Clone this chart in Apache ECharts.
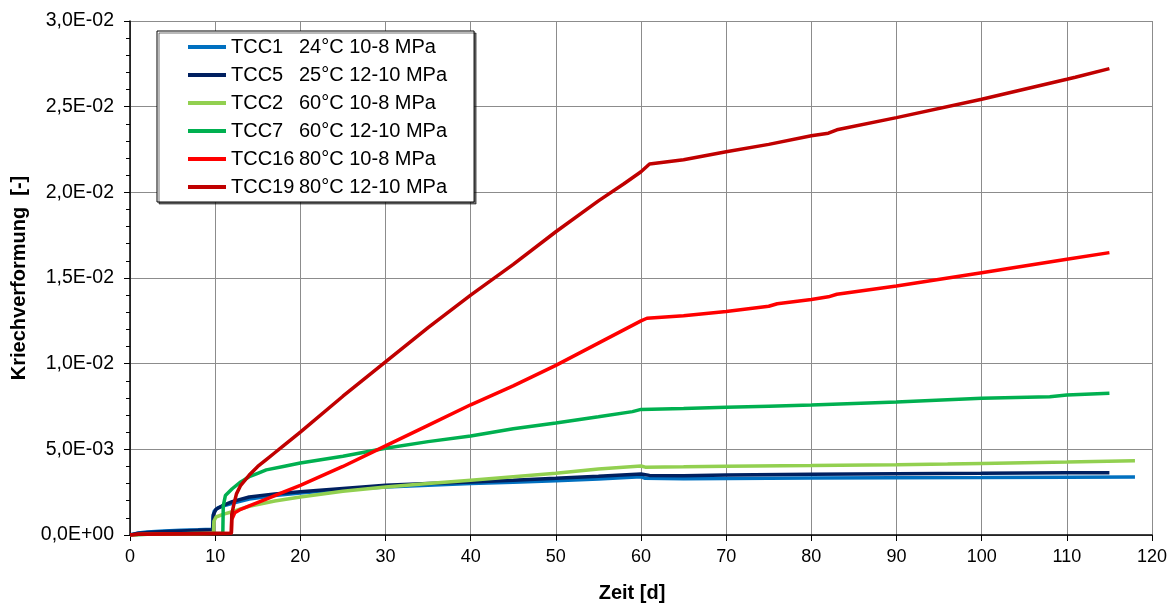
<!DOCTYPE html>
<html>
<head>
<meta charset="utf-8">
<script src="https://cdn.jsdelivr.net/npm/echarts@6/dist/echarts.min.js"></script>
<style>html,body{margin:0;padding:0;background:#fff;}#c{width:1176px;height:606px;}</style>
</head>
<body>
<div id="c"></div>
<script>
// [time in days, creep strain]
const tcc1 = [[0,0],[1,0.00012],[2,0.00018],[4,0.00024],[6,0.00027],[8,0.0003],[9.7,0.00033],[9.75,0.0011],[9.9,0.0014],[10.3,0.00158],[11,0.0017],[12,0.00185],[14,0.0021],[17,0.0023],[20,0.00245],[25,0.00265],[30,0.0028],[35,0.0029],[40,0.003],[45,0.00308],[50,0.00317],[55,0.00327],[60,0.0034],[60.5,0.00331],[65,0.00328],[70,0.0033],[80,0.00332],[90,0.00334],[100,0.00335],[110,0.00337],[118,0.00339]];
const tcc5 = [[0,0],[1,0.0001],[3,0.00018],[6,0.00024],[9.7,0.0003],[9.8,0.0012],[10.1,0.0015],[11,0.00175],[12,0.00195],[14,0.00222],[17,0.0024],[20,0.00253],[25,0.00272],[30,0.0029],[35,0.003],[40,0.0031],[45,0.0032],[50,0.00331],[55,0.00343],[60,0.00356],[61,0.00348],[65,0.00346],[70,0.0035],[80,0.00355],[90,0.00358],[100,0.0036],[110,0.00363],[115,0.00364]];
const tcc2 = [[0,0],[2,0.00005],[9.8,0.0001],[9.85,0.0008],[10.1,0.00105],[11,0.00122],[12,0.00136],[14,0.00168],[17,0.00198],[20,0.00222],[25,0.00255],[30,0.0028],[35,0.003],[40,0.0032],[45,0.0034],[50,0.0036],[55,0.00385],[60,0.00403],[60.5,0.00396],[65,0.00398],[70,0.00401],[80,0.00405],[90,0.0041],[96,0.00414],[100,0.00418],[110,0.00426],[118,0.00434]];
const tcc7 = [[0,0],[2,0.00005],[10.9,0.0001],[10.95,0.0017],[11.2,0.0023],[12,0.0027],[13,0.0031],[14,0.0034],[15,0.0036],[16,0.0038],[18,0.004],[20,0.0042],[25,0.0046],[30,0.00506],[35,0.00545],[40,0.00578],[45,0.0062],[50,0.00654],[55,0.0069],[59,0.0072],[60,0.00733],[65,0.00738],[70,0.00745],[75,0.00752],[80,0.00759],[90,0.00776],[100,0.00798],[108,0.00807],[110,0.00817],[115,0.00827]];
const tcc16 = [[0,0],[1,0.00005],[11.9,0.0001],[11.95,0.0009],[12.3,0.0013],[13,0.0015],[14,0.0017],[16,0.0021],[18,0.0025],[20,0.0029],[25,0.004],[30,0.0052],[35,0.0064],[40,0.0076],[45,0.0087],[50,0.0099],[55,0.0112],[60,0.0125],[60.7,0.01265],[65,0.0128],[70,0.01305],[75,0.01335],[76,0.0135],[80,0.01375],[82,0.0139],[83,0.01405],[90,0.01453],[100,0.01531],[110,0.01609],[115,0.01648]];
const tcc19 = [[0,0],[1,0.00005],[11.9,0.0001],[11.95,0.0012],[12.2,0.0018],[12.5,0.0024],[13,0.0029],[14,0.0035],[15,0.004],[16,0.0044],[17,0.0048],[18,0.0052],[20,0.006],[25,0.0081],[30,0.0101],[35,0.0121],[40,0.014],[45,0.0158],[50,0.0177],[55,0.0195],[58,0.0205],[60,0.0212],[61,0.02165],[65,0.0219],[70,0.02237],[75,0.0228],[80,0.0233],[82,0.02345],[83,0.02365],[90,0.02436],[100,0.02543],[110,0.0266],[111,0.02672],[115,0.02722]];

const seriesNames = ['TCC1   24°C 10-8 MPa','TCC5   25°C 12-10 MPa','TCC2   60°C 10-8 MPa','TCC7   60°C 12-10 MPa','TCC16 80°C 10-8 MPa','TCC19 80°C 12-10 MPa'];
const seriesData = [tcc1, tcc5, tcc2, tcc7, tcc16, tcc19];
const seriesColors = ['#0070C0','#002060','#92D050','#00B050','#FF0000','#C00000'];

const FONT = 'Liberation Sans, Arial, sans-serif';

function sci(v){
  if (v === 0) return '0,0E+00';
  const s = v.toExponential(1);
  const [m, e] = s.split('e');
  const ev = parseInt(e, 10);
  const sign = ev < 0 ? '-' : '+';
  const ea = Math.abs(ev);
  return m.replace('.', ',') + 'E' + sign + (ea < 10 ? '0' + ea : '' + ea);
}

const chart = echarts.init(document.getElementById('c'), null, {renderer: 'canvas'});
chart.setOption({
  animation: false,
  backgroundColor: '#fff',
  grid: {left: 130, right: 24, top: 21, bottom: 71, containLabel: false, outerBoundsMode: 'none'},
  legend: {
    orient: 'vertical',
    left: 157, top: 31,
    padding: [6, 27, 5, 31],
    itemGap: 8,
    itemWidth: 38, itemHeight: 4,
    icon: 'rect',
    backgroundColor: '#fff',
    borderColor: '#000', borderWidth: 1,
    shadowColor: 'rgba(0,0,0,0.55)', shadowBlur: 0, shadowOffsetX: 2, shadowOffsetY: 2,
    formatter: function(name){
      const parts = name.split(/ +/);
      const code = parts.shift();
      return '{a|' + code + '}{b|' + parts.join(' ') + '}';
    },
    textStyle: {
      fontFamily: FONT, fontSize: 20, color: '#000', lineHeight: 20,
      rich: {
        a: {fontFamily: FONT, fontSize: 20, width: 68, color: '#000', lineHeight: 20},
        b: {fontFamily: FONT, fontSize: 20, color: '#000', lineHeight: 20}
      }
    },
    data: seriesNames
  },
  xAxis: {
    type: 'value', min: 0, max: 120, interval: 10,
    name: 'Zeit [d]', nameLocation: 'middle', nameGap: 48,
    nameTextStyle: {fontFamily: FONT, fontSize: 20, fontWeight: 'bold', color: '#000', padding: [0, 18, 0, 0]},
    axisLine: {show: true, onZero: false, lineStyle: {color: '#000', width: 1.5}},
    axisTick: {show: true, length: 6, lineStyle: {color: '#000'}},
    axisLabel: {fontFamily: FONT, fontSize: 18, color: '#000', margin: 13},
    splitLine: {show: true, lineStyle: {color: '#8c8c8c', width: 1}}
  },
  yAxis: {
    type: 'value', min: 0, max: 0.03, interval: 0.005,
    name: 'Kriechverformung  [-]', nameLocation: 'middle', nameGap: 99,
    nameTextStyle: {fontFamily: FONT, fontSize: 20, fontWeight: 'bold', color: '#000'},
    axisLine: {show: true, onZero: false, lineStyle: {color: '#000', width: 1.5}},
    axisTick: {show: true, length: 6, lineStyle: {color: '#000'}},
    minorTick: {show: true, splitNumber: 5, length: 4, lineStyle: {color: '#000'}},
    axisLabel: {fontFamily: FONT, fontSize: 19.5, color: '#000', margin: 16, formatter: sci},
    splitLine: {show: true, lineStyle: {color: '#8c8c8c', width: 1}}
  },
  series: seriesNames.map((n, i) => ({
    name: n, type: 'line', data: seriesData[i],
    showSymbol: false, symbol: 'none', smooth: false,
    lineStyle: {color: seriesColors[i], width: 3.5},
    itemStyle: {color: seriesColors[i]},
    z: 2 + i
  }))
});
</script>
</body>
</html>
